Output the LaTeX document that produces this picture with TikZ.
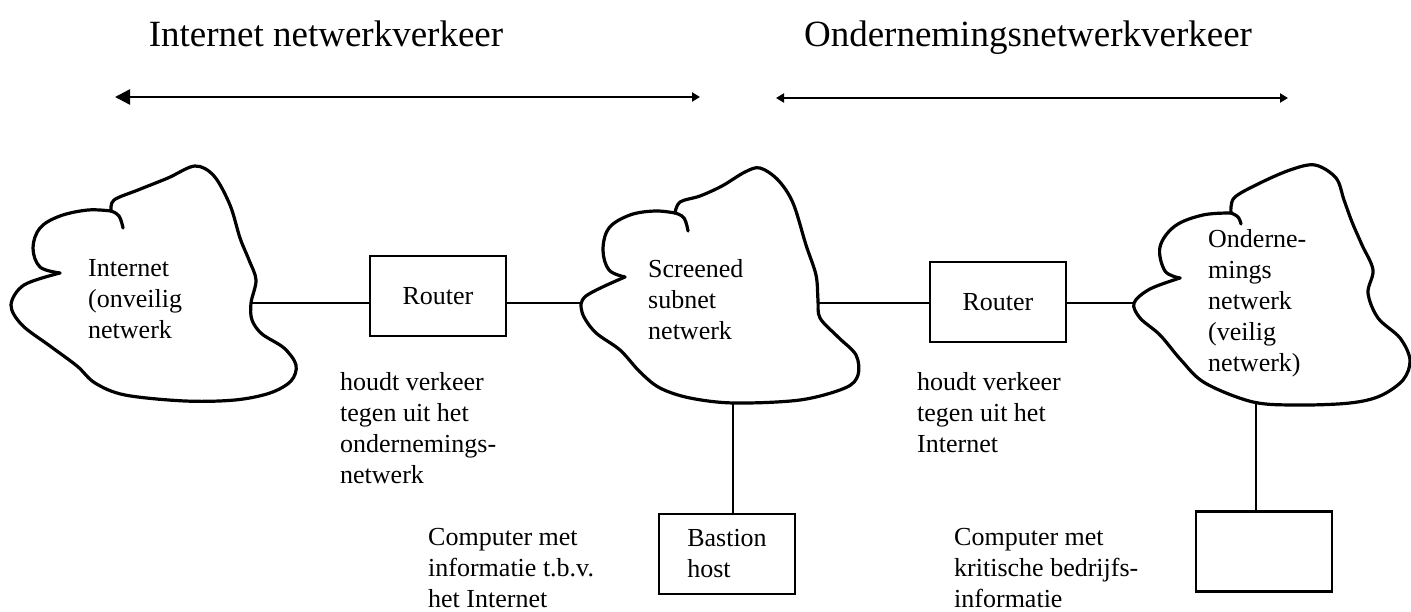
\documentclass[tikz,border=0pt]{standalone}
\usepackage{fontspec}
\setmainfont{Liberation Serif}
\usetikzlibrary{arrows.meta}
\newcommand{\diagbody}{\fontsize{26}{31}\selectfont}
\newcommand{\diagtitle}{\fontsize{37}{44}\selectfont}
\begin{document}
\begin{tikzpicture}[x=1pt,y=-1pt,
  cloudline/.style={line width=3.2pt, line join=round, line cap=round},
  boxnode/.style={draw, line width=2.6pt, minimum width=136pt, minimum height=80pt, inner sep=0pt, align=left, font=\diagbody},
  link/.style={line width=2.4pt},
  span/.style={line width=2.4pt},
  % anchored at the baseline of the last line
  label/.style={anchor=base west, align=left, inner sep=0pt, font=\diagbody},
  title/.style={anchor=base, inner sep=0pt, font=\diagtitle}
]
\fill[white] (0,0) rectangle (1411,612);
\useasboundingbox (0,0) rectangle (1411,612);

% headings with traffic spans
\node[title] (t1) at (326,47) {Internet netwerkverkeer};
\node[title] (t2) at (1028,47) {Ondernemingsnetwerkverkeer};
\coordinate (a1l) at (115,97);
\coordinate (a1r) at (700,97);
\coordinate (a2l) at (776,98);
\coordinate (a2r) at (1288,98);
\draw[span, {Triangle[length=15pt,width=15pt]}-{Triangle[length=8pt,width=9pt]}] (a1l) -- (a1r);
\draw[span, {Triangle[length=8pt,width=9pt]}-{Triangle[length=8pt,width=9pt]}] (a2l) -- (a2r);

% Internet cloud
\draw[cloudline] plot[smooth, tension=0.55] coordinates {(111,211) (114,200) (138,190) (168,178) (195,166) (214,176) (230,205) (240,238) (249,260) (256,280) (251,303) (252,320) (262,334) (284,348) (296,365) (291,381) (270,393) (235,400) (185,401) (125,395) (95,383) (77,366) (50,346) (22,325) (11,305) (24,285) (60,273)};
\draw[cloudline] plot[smooth, tension=0.6] coordinates {(60,273) (40,267) (33,248) (40,228) (60,216) (88,210) (111,211)};
\draw[cloudline] plot[smooth, tension=0.7] coordinates {(111,211) (119,216) (123,228)};

% screened subnet cloud
\draw[cloudline] plot[smooth, tension=0.55] coordinates {(675,213) (680,202) (700,196) (722,186) (745,172) (760,168) (778,180) (793,203) (806,245) (816,275) (818,300) (820,318) (838,337) (856,355) (858,375) (845,388) (800,400) (734,403) (690,398) (660,388) (640,372) (620,350) (595,332) (582,312) (586,296) (625,277)};
\draw[cloudline] plot[smooth, tension=0.6] coordinates {(625,277) (609,270) (603,250) (609,228) (630,215) (655,211) (675,213)};
\draw[cloudline] plot[smooth, tension=0.7] coordinates {(675,213) (684,218) (688,231)};

% enterprise network cloud
\draw[cloudline] plot[smooth, tension=0.55] coordinates {(1231,213) (1234,198) (1258,184) (1290,170) (1315,165) (1336,178) (1344,200) (1352,222) (1362,245) (1373,270) (1368,293) (1378,318) (1400,338) (1410,360) (1403,380) (1380,396) (1350,403) (1300,405) (1253,402) (1205,383) (1181,360) (1160,335) (1140,318) (1134,303) (1150,289) (1180,278)};
\draw[cloudline] plot[smooth, tension=0.6] coordinates {(1180,278) (1165,271) (1160,247) (1175,226) (1203,215) (1231,213)};
\draw[cloudline] plot[smooth, tension=0.7] coordinates {(1231,213) (1238,217) (1241,224)};

% cloud texts
\node[label] (inetlbl) at (88,338) {Internet\\(onveilig\\netwerk};
\node[label] (scrlbl) at (648,339) {Screened\\subnet\\netwerk};
\node[label] (ondlbl) at (1208,371) {Onderne-\\mings\\netwerk\\(veilig\\netwerk)};

% boxes
\node[boxnode] (r1) at (438,296) {Router};
\node[boxnode] (r2) at (998,302) {Router};
\node[boxnode] (bastion) at (727,554) {Bastion\\host};
\node[boxnode] (crit) at (1264,551.5) {};

% attachment points on the clouds
\coordinate (inetE) at (252,303);
\coordinate (scrW) at (582,303);
\coordinate (scrE) at (818,303);
\coordinate (ondW) at (1134,303);
\coordinate (scrS) at (733,403);
\coordinate (ondS) at (1256,403);

% connectors
\draw[link] (inetE) -- (inetE -| r1.west);
\draw[link] (r1.east |- scrW) -- (scrW);
\draw[link] (scrE) -- (scrE -| r2.west);
\draw[link] (r2.east |- ondW) -- (ondW);
\draw[link] (scrS) -- (scrS |- bastion.north);
\draw[link] (ondS) -- (ondS |- crit.north);

% notes
\node[label] (note1) at (340,483) {houdt verkeer\\tegen uit het\\ondernemings-\\netwerk};
\node[label] (note2) at (917,452) {houdt verkeer\\tegen uit het\\Internet};
\node[label] (info1) at (428,607) {Computer met\\informatie t.b.v.\\het Internet};
\node[label] (info2) at (954,607) {Computer met\\kritische bedrijfs-\\informatie};
\end{tikzpicture}
\end{document}
